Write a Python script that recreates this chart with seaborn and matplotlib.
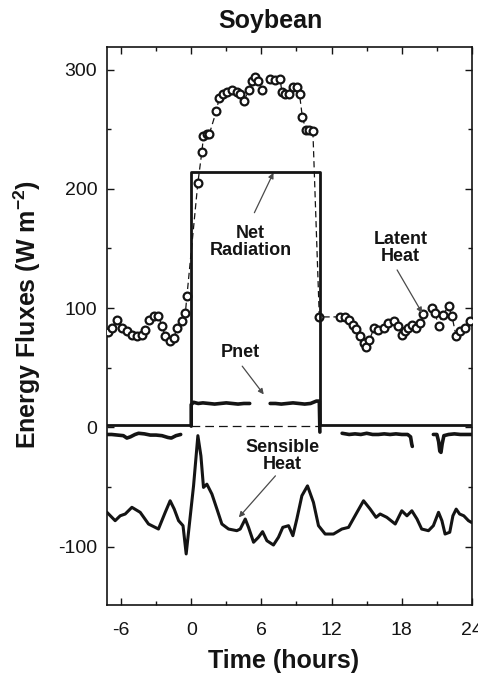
import numpy as np
import pandas as pd
import matplotlib.pyplot as plt
import seaborn as sns
from matplotlib.ticker import MultipleLocator

# Net radiation (lights on from 0 to 11 h)
net_t = [-7.2, 0, 0, 11, 11, 24]
net_v = [2, 2, 214, 214, 2, 2]

# Latent heat (open circles)
lat_t = [-7.07, -6.8, -6.35, -5.9, -5.5, -5.07, -4.64, -4.2, -3.93, -3.65,
         -3.2, -2.8, -2.5, -2.2, -1.8, -1.5, -1.2, -0.8, -0.5, -0.37,
         0.57, 0.91, 1.05, 1.34, 1.56, 2.14, 2.39, 2.7, 3.1, 3.48,
         3.9, 4.19, 4.53, 4.9, 5.19, 5.47, 5.75, 6.04, 6.75, 7.18,
         7.6, 7.75, 8.04, 8.4, 8.7, 9.03, 9.26, 9.5, 9.8, 10.1, 10.4,
         10.95, 12.74, 13.16, 13.45, 13.8, 14.1, 14.44, 14.73, 14.93, 15.24,
         15.64, 16.0, 16.44, 16.86, 17.3, 17.67, 18.0, 18.3, 18.57, 18.86,
         19.23, 19.57, 19.8, 20.57, 20.85, 21.14, 21.5, 22.0, 22.28, 22.65,
         23.0, 23.4, 23.8]
lat_v = [79.7, 83.4, 90.3, 83.6, 80.5, 77.8, 76.3, 77.8, 81.9, 90.3,
         93.1, 93.6, 84.7, 76.3, 72.2, 75.0, 83.4, 88.9, 95.9, 109.8,
         205.1, 231.0, 244.1, 245.6, 246.4, 265.0, 276.2, 279.3, 281.2, 282.6,
         281.2, 279.9, 273.7, 283.2, 290.4, 293.8, 290.1, 282.6, 292.4, 291.6,
         292.4, 281.2, 279.9, 279.3, 285.4, 285.4, 279.3, 260.3, 249.7, 249.2, 248.6,
         92.6, 92.6, 92.6, 90.3, 86.1, 82.5, 76.3, 70.8, 67.5, 73.6,
         83.4, 81.9, 83.4, 87.5, 88.9, 84.7, 77.8, 80.5, 83.4, 86.1,
         83.4, 87.5, 95.3, 100.1, 95.9, 84.7, 94.5, 101.4, 93.6, 76.3,
         80.5, 83.4, 88.9]

# Pnet (NaN marks a gap in the record)
pnet_t = [-7.2, -6.8, -6.3, -5.8, -5.5, -5.2, -4.8, -4.5, -4.0, -3.5,
          -3.0, -2.5, -2.0, -1.7, -1.3, -0.9, np.nan,
          0.0, 0.0, 0.2, 0.6, 1.0, 1.5, 2.0, 2.5, 3.0, 3.5, 4.0, 4.5, 5.0, np.nan,
          6.75, 7.2, 7.7, 8.2, 8.7, 9.2, 9.7, 10.2, 10.7, 10.95, 11.0, np.nan,
          12.9, 13.5, 14.0, 14.5, 15.0, 15.5, 16.0, 16.5, 17.0, 17.5, 18.0,
          18.5, 18.75, 18.85, 18.9, np.nan,
          20.7, 21.0, 21.15, 21.25, 21.35, 21.45, 21.6, 22.0, 22.5, 23.0, 23.5, 24.0]
pnet_v = [-6, -6, -6.5, -7, -9, -8, -6, -5, -5.5, -6.5,
          -6.5, -7, -8.5, -9, -7, -6, np.nan,
          1, 19, 21, 20, 20.5, 20, 19.5, 20, 20.5, 20, 19.5, 20, 20, np.nan,
          20, 20, 19.5, 20, 20.5, 20, 19.5, 20, 22, 22, -4, np.nan,
          -5, -6, -5.5, -6, -5, -6, -6, -5.5, -6, -5.5, -6,
          -6, -8, -14, -16, np.nan,
          -6, -6, -12, -20, -21, -14, -7, -6, -5.5, -6, -6, -6]

# Sensible heat
sens_t = [-7.2, -6.5, -6.07, -5.64, -5.07, -4.36, -3.65, -2.8, -2.22, -1.8,
          -1.45, -1.08, -0.7, -0.43, -0.23, 0.2, 0.57, 0.83, 1.05, 1.34,
          1.77, 2.2, 2.62, 3.19, 3.9, 4.19, 4.62, 4.9, 5.33, 5.75,
          6.1, 6.47, 7.03, 7.46, 7.83, 8.32, 8.69, 9.03, 9.46, 9.94,
          10.45, 10.88, 11.45, 12.16, 12.88, 13.45, 14.17, 14.73, 15.3, 15.8,
          16.15, 16.72, 17.44, 18.0, 18.44, 18.86, 19.3, 19.7, 20.28, 20.7,
          21.14, 21.43, 21.7, 22.1, 22.37, 22.65, 22.94, 23.3, 23.7, 24.0]
sens_v = [-71.3, -78.3, -74.2, -72.7, -67.1, -71.3, -81.1, -85.3, -71.3, -61.6,
          -68.6, -78.3, -82.5, -106.2, -88.0, -49.1, -7.0, -24.0, -50.4, -47.7,
          -56.0, -68.6, -81.1, -85.3, -86.7, -85.3, -76.9, -83.9, -96.4, -92.2,
          -87.5, -95.1, -98.7, -92.2, -83.9, -82.5, -90.9, -76.9, -57.4, -49.1,
          -63.0, -82.5, -89.5, -89.5, -85.3, -83.9, -71.3, -61.6, -68.6, -75.5,
          -72.7, -75.5, -81.1, -70.0, -74.2, -70.0, -76.9, -85.3, -86.7, -82.5,
          -71.3, -78.3, -89.5, -88.0, -74.2, -68.6, -72.7, -74.2, -78.3, -80.0]

# dashed base line during the light period
base_t = [0, 11]
base_v = [1, 1]


def frame(t, v):
    df = pd.DataFrame({"t": t, "v": v})
    df["seg"] = df["v"].isna().cumsum()
    return df.dropna()


def trace(t, v, **kws):
    # raw trace: no aggregation, one line per gap-free segment
    sns.lineplot(data=frame(t, v), x="t", y="v", units="seg", estimator=None,
                 sort=False, color=ink, ax=ax, **kws)


sns.set_theme(style="ticks")
plt.rcParams["font.family"] = ["Liberation Sans", "DejaVu Sans"]
plt.rcParams["mathtext.default"] = "regular"
plt.rcParams["axes.unicode_minus"] = False

ink = "#141414"
fig = plt.figure(figsize=(4.78, 6.77), dpi=100)
ax = fig.add_axes([0.2238, 0.1064, 0.7636, 0.8242])

trace(base_t, base_v, lw=0.9, linestyle=(0, (7, 4)))
trace(lat_t, lat_v, lw=0.9, linestyle=(0, (5, 3)), marker="o", markersize=5.6,
      markerfacecolor="white", markeredgecolor=ink, markeredgewidth=1.6,
      zorder=3)
trace(net_t, net_v, lw=2.0, zorder=4)
trace(pnet_t, pnet_v, lw=2.6, zorder=4)
trace(sens_t, sens_v, lw=2.2, zorder=4)

# labels with arrows
arrow = dict(arrowstyle="-|>", color="#4a4a4a", lw=0.9, mutation_scale=8,
             shrinkA=0, shrinkB=0)
lab = dict(fontsize=13, fontweight="bold", ha="center", va="center",
           linespacing=1.05, color=ink)
ax.annotate("", xy=(7.03, 213.5), xytext=(5.4, 180), arrowprops=arrow)
ax.text(5.07, 155.5, "Net\nRadiation", **lab)
ax.annotate("", xy=(19.74, 95.9), xytext=(17.6, 132), arrowprops=arrow)
ax.text(17.9, 150.5, "Latent\nHeat", **lab)
ax.annotate("", xy=(6.2, 27.6), xytext=(4.36, 51.3), arrowprops=arrow)
ax.text(4.2, 62.5, "Pnet", **lab)
ax.annotate("", xy=(4.07, -75.5), xytext=(7.2, -40.7), arrowprops=arrow)
ax.text(7.77, -24, "Sensible\nHeat", **lab)

ax.set_xlim(-7.2, 24)
ax.set_ylim(-149, 319)
ax.xaxis.set_major_locator(MultipleLocator(6))
ax.xaxis.set_minor_locator(MultipleLocator(3))
ax.yaxis.set_major_locator(MultipleLocator(100))
ax.yaxis.set_minor_locator(MultipleLocator(50))
ax.tick_params(which="both", direction="in", top=True, right=True,
               color=ink, width=1.0, labelsize=14, labelcolor=ink)
ax.tick_params(which="major", length=5)
ax.tick_params(which="minor", length=3)
ax.tick_params(axis="x", pad=12)
ax.tick_params(axis="y", pad=7)
for s in ax.spines.values():
    s.set_linewidth(1.2)
    s.set_color(ink)

ax.set_title("Soybean", fontsize=18, fontweight="bold", pad=14, color=ink)
ax.title.set_position((0.449, 1.0))
ax.set_xlabel("Time (hours)", fontsize=18, fontweight="bold", color=ink)
ax.xaxis.set_label_coords(0.4836, -0.1129)
ax.xaxis.label.set_va("baseline")
ax.set_ylabel("Energy Fluxes (W m$^{-2}$)", fontsize=18, fontweight="bold",
              color=ink)
ax.yaxis.set_label_coords(-0.175, 0.52)

fig.savefig("out.png", dpi=100, facecolor="white")
